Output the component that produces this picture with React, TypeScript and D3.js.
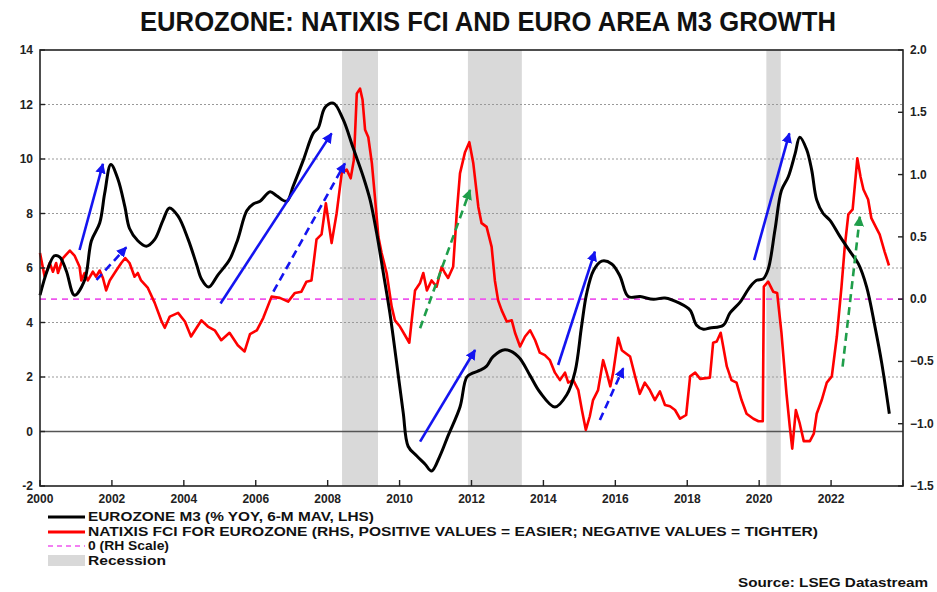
import React from 'react';
import * as d3 from 'd3';

const titleText = 'EUROZONE: NATIXIS FCI AND EURO AREA M3 GROWTH';
const legendLabels = [
  'EUROZONE M3 (% YOY, 6-M MAV, LHS)',
  'NATIXIS FCI FOR EUROZONE (RHS, POSITIVE VALUES = EASIER; NEGATIVE VALUES = TIGHTER)',
  '0 (RH Scale)',
  'Recession',
];
const sourceText = 'Source: LSEG Datastream';

const m3Years = [2000.0, 2000.2, 2000.4, 2000.55, 2000.73, 2000.96, 2001.24, 2001.43, 2001.66, 2001.8, 2001.97, 2002.17, 2002.36, 2002.49, 2002.72, 2002.96, 2003.19, 2003.42, 2003.6, 2003.84, 2004.12, 2004.35, 2004.49, 2004.69, 2004.95, 2005.27, 2005.5, 2005.75, 2005.93, 2006.12, 2006.4, 2006.58, 2006.86, 2007.04, 2007.32, 2007.6, 2007.74, 2007.93, 2008.16, 2008.43, 2008.71, 2008.99, 2009.18, 2009.36, 2009.55, 2009.73, 2009.92, 2010.1, 2010.24, 2010.48, 2010.71, 2010.89, 2011.12, 2011.35, 2011.68, 2011.87, 2012.05, 2012.24, 2012.42, 2012.6, 2012.93, 2013.3, 2013.63, 2013.9, 2014.32, 2014.65, 2014.88, 2015.06, 2015.2, 2015.39, 2015.62, 2015.9, 2016.13, 2016.36, 2016.69, 2017.06, 2017.38, 2017.8, 2018.08, 2018.26, 2018.45, 2018.63, 2019.0, 2019.19, 2019.47, 2019.74, 2019.93, 2020.11, 2020.25, 2020.44, 2020.62, 2020.81, 2021.0, 2021.13, 2021.32, 2021.46, 2021.6, 2021.78, 2021.97, 2022.25, 2022.53, 2022.76, 2022.99, 2023.22, 2023.41, 2023.62];
const m3Values = [5.0, 5.9, 6.45, 6.4, 5.9, 5.0, 5.55, 7.0, 7.65, 8.75, 9.8, 9.25, 8.25, 7.45, 7.0, 6.8, 7.05, 7.75, 8.2, 7.9, 7.05, 6.15, 5.6, 5.3, 5.75, 6.3, 7.05, 8.1, 8.35, 8.45, 8.8, 8.65, 8.45, 9.0, 9.95, 10.95, 11.15, 11.9, 12.05, 11.45, 10.4, 9.35, 8.5, 7.3, 5.8, 4.35, 2.5, 0.7, -0.55, -0.9, -1.2, -1.45, -0.9, -0.15, 0.9, 2.0, 2.15, 2.25, 2.4, 2.75, 3.0, 2.75, 2.05, 1.45, 0.9, 1.35, 2.2, 3.85, 5.05, 5.9, 6.25, 6.15, 5.7, 4.95, 4.95, 4.85, 4.9, 4.7, 4.45, 3.9, 3.75, 3.8, 3.9, 4.35, 4.75, 5.3, 5.55, 5.6, 5.95, 7.4, 8.85, 9.35, 10.2, 10.8, 10.35, 9.6, 8.5, 8.0, 7.75, 7.15, 6.6, 6.15, 5.3, 3.85, 2.5, 0.65];

const fciYears = [2000.0, 2000.13, 2000.27, 2000.36, 2000.45, 2000.5, 2000.64, 2000.83, 2000.96, 2001.1, 2001.15, 2001.24, 2001.33, 2001.47, 2001.56, 2001.66, 2001.75, 2001.84, 2001.94, 2002.12, 2002.26, 2002.37, 2002.49, 2002.63, 2002.72, 2002.81, 2003.0, 2003.19, 2003.37, 2003.47, 2003.61, 2003.84, 2004.03, 2004.2, 2004.49, 2004.67, 2004.86, 2005.04, 2005.27, 2005.5, 2005.69, 2005.84, 2006.03, 2006.21, 2006.44, 2006.67, 2006.9, 2007.09, 2007.27, 2007.41, 2007.55, 2007.69, 2007.83, 2007.95, 2008.11, 2008.25, 2008.39, 2008.53, 2008.64, 2008.73, 2008.81, 2008.9, 2008.97, 2009.04, 2009.13, 2009.23, 2009.32, 2009.41, 2009.5, 2009.64, 2009.78, 2009.87, 2010.01, 2010.15, 2010.27, 2010.36, 2010.43, 2010.57, 2010.66, 2010.76, 2010.89, 2011.03, 2011.17, 2011.26, 2011.35, 2011.49, 2011.59, 2011.68, 2011.82, 2011.94, 2012.05, 2012.19, 2012.28, 2012.42, 2012.56, 2012.65, 2012.74, 2012.84, 2012.98, 2013.12, 2013.21, 2013.35, 2013.49, 2013.63, 2013.77, 2013.9, 2014.04, 2014.18, 2014.32, 2014.46, 2014.6, 2014.69, 2014.83, 2014.97, 2015.07, 2015.18, 2015.29, 2015.38, 2015.52, 2015.66, 2015.76, 2015.86, 2015.94, 2016.08, 2016.18, 2016.27, 2016.41, 2016.55, 2016.68, 2016.82, 2016.96, 2017.1, 2017.24, 2017.38, 2017.52, 2017.66, 2017.8, 2017.97, 2018.08, 2018.22, 2018.36, 2018.63, 2018.72, 2018.82, 2018.93, 2019.0, 2019.1, 2019.23, 2019.37, 2019.51, 2019.65, 2019.84, 2019.98, 2020.1, 2020.13, 2020.25, 2020.39, 2020.5, 2020.62, 2020.76, 2020.85, 2020.92, 2021.02, 2021.13, 2021.24, 2021.41, 2021.52, 2021.6, 2021.74, 2021.88, 2022.02, 2022.16, 2022.29, 2022.38, 2022.48, 2022.6, 2022.73, 2022.82, 2022.9, 2023.03, 2023.12, 2023.26, 2023.35, 2023.49, 2023.61];
const fciValues = [0.37, 0.18, 0.29, 0.22, 0.29, 0.21, 0.33, 0.39, 0.35, 0.26, 0.15, 0.21, 0.15, 0.22, 0.18, 0.23, 0.17, 0.07, 0.15, 0.23, 0.29, 0.33, 0.29, 0.18, 0.21, 0.15, 0.09, -0.03, -0.17, -0.23, -0.14, -0.11, -0.18, -0.3, -0.17, -0.22, -0.25, -0.33, -0.27, -0.37, -0.42, -0.28, -0.25, -0.15, 0.02, 0.01, -0.02, 0.05, 0.06, 0.14, 0.15, 0.48, 0.52, 0.77, 0.45, 0.69, 1.01, 1.04, 0.97, 1.12, 1.65, 1.69, 1.6, 1.36, 1.3, 1.09, 0.8, 0.5, 0.37, 0.21, -0.06, -0.17, -0.22, -0.29, -0.35, -0.11, 0.07, 0.13, 0.21, 0.07, 0.15, 0.1, 0.26, 0.21, 0.17, 0.26, 0.69, 1.01, 1.18, 1.26, 1.09, 0.74, 0.61, 0.58, 0.42, 0.15, -0.01, -0.09, -0.18, -0.17, -0.27, -0.38, -0.3, -0.25, -0.33, -0.43, -0.45, -0.49, -0.59, -0.65, -0.59, -0.67, -0.65, -0.73, -0.89, -1.05, -0.94, -0.81, -0.73, -0.49, -0.59, -0.7, -0.59, -0.31, -0.41, -0.43, -0.46, -0.62, -0.76, -0.67, -0.73, -0.81, -0.74, -0.85, -0.86, -0.89, -0.96, -0.93, -0.62, -0.59, -0.64, -0.63, -0.35, -0.34, -0.27, -0.38, -0.54, -0.65, -0.67, -0.81, -0.92, -0.96, -0.98, -0.98, 0.1, 0.14, 0.06, 0.05, -0.27, -0.76, -1.02, -1.2, -0.89, -1.0, -1.14, -1.14, -1.08, -0.92, -0.81, -0.67, -0.62, -0.3, 0.1, 0.42, 0.68, 0.72, 1.13, 0.98, 0.88, 0.8, 0.65, 0.57, 0.52, 0.38, 0.27];

const recessionStarts = [2008.4, 2011.9, 2020.2];
const recessionEnds = [2009.4, 2013.4, 2020.6];

const leftTicks = [-2, 0, 2, 4, 6, 8, 10, 12, 14];
const rightTicks = [-1.5, -1.0, -0.5, 0.0, 0.5, 1.0, 1.5, 2.0];
const yearTicks = [2000, 2002, 2004, 2006, 2008, 2010, 2012, 2014, 2016, 2018, 2020, 2022, 2024];
const yearLabels = [2000, 2002, 2004, 2006, 2008, 2010, 2012, 2014, 2016, 2018, 2020, 2022];

// annotation arrows (x in years, y in LHS units)
const arrowKinds = ['blue', 'blue', 'blue', 'blue', 'blue', 'blueDash', 'blueDash', 'blueDash', 'greenDash', 'greenDash'];
const arrowX0 = [2001.1, 2005.02, 2010.57, 2014.41, 2019.86, 2001.57, 2006.49, 2015.57, 2010.57, 2022.32];
const arrowY0 = [6.66, 4.7, -0.37, 2.44, 6.29, 5.56, 5.13, 0.42, 3.79, 2.38];
const arrowX1 = [2001.75, 2008.11, 2012.1, 2015.43, 2020.84, 2002.4, 2008.48, 2016.22, 2011.96, 2022.8];
const arrowY1 = [9.82, 10.94, 2.99, 6.6, 10.94, 6.76, 9.84, 2.32, 8.86, 7.88];

const W = 937;
const H = 592;
const PL = 40;
const PR = 903;
const PT = 50;
const PB = 486;

const BOLD = "'Liberation Sans', Arial, Helvetica, sans-serif";
const NARROW = "'Liberation Sans Narrow', 'Arial Narrow', 'Liberation Sans', sans-serif";

export default function App() {
  const x = d3.scaleLinear().domain([2000, 2024]).range([PL, PR]);
  const yL = d3.scaleLinear().domain([-2, 14]).range([PB, PT]);
  const yR = d3.scaleLinear().domain([-1.5, 2]).range([PB, PT]);

  const m3 = m3Years.map((yr, i) => [yr, m3Values[i]] as [number, number]);
  const fci = fciYears.map((yr, i) => [yr, fciValues[i]] as [number, number]);

  const m3Line = d3
    .line<[number, number]>()
    .x((d) => x(d[0]))
    .y((d) => yL(d[1]))
    .curve(d3.curveCatmullRom.alpha(0.5));
  const fciLine = d3
    .line<[number, number]>()
    .x((d) => x(d[0]))
    .y((d) => yR(d[1]));

  const arrowColor: Record<string, string> = {
    blue: '#1414f0',
    blueDash: '#1414f0',
    greenDash: '#1f9e4a',
  };

  const legendY = [521, 536, 550, 565];

  return (
    <svg
      width={W}
      height={H}
      style={{ position: 'absolute', left: 0, top: 0, background: '#fff' }}
    >
      <defs>
        <marker id="headBlue" viewBox="0 0 10 10" refX="9" refY="5" markerWidth="4" markerHeight="4" orient="auto" markerUnits="strokeWidth">
          <path d="M0,0 L10,5 L0,10 z" fill="#1414f0" />
        </marker>
        <marker id="headGreen" viewBox="0 0 10 10" refX="9" refY="5" markerWidth="4" markerHeight="4" orient="auto" markerUnits="strokeWidth">
          <path d="M0,0 L10,5 L0,10 z" fill="#1f9e4a" />
        </marker>
      </defs>

      <text
        x={140}
        y={31}
        textLength={696}
        lengthAdjust="spacingAndGlyphs"
        fontFamily={NARROW}
        fontWeight="bold"
        fontSize={27}
        fill="#111"
      >
        {titleText}
      </text>

      {/* recession bands */}
      {recessionStarts.map((s, i) => (
        <rect
          key={'rec' + i}
          x={x(s)}
          y={PT}
          width={x(recessionEnds[i]) - x(s)}
          height={PB - PT}
          fill="#d9d9d9"
        />
      ))}

      {/* gridlines */}
      {leftTicks
        .filter((t) => t > -2 && t < 14)
        .map((t) => (
          <line
            key={'g' + t}
            x1={PL}
            x2={PR}
            y1={yL(t)}
            y2={yL(t)}
            stroke={t === 0 ? '#555' : '#999'}
            strokeWidth={t === 0 ? 1.3 : 1}
            strokeDasharray={t === 0 ? undefined : '2,2'}
          />
        ))}

      {/* zero RHS */}
      <line
        x1={PL}
        x2={PR}
        y1={yR(0)}
        y2={yR(0)}
        stroke="#ee55ee"
        strokeWidth={1.6}
        strokeDasharray="6,5"
      />

      {/* series */}
      <path d={fciLine(fci) || ''} fill="none" stroke="#ff0000" strokeWidth={2.6} strokeLinejoin="round" />
      <path d={m3Line(m3) || ''} fill="none" stroke="#000" strokeWidth={3} strokeLinejoin="round" />

      {/* arrows */}
      {arrowKinds.map((k, i) => (
        <line
          key={'a' + i}
          x1={x(arrowX0[i])}
          y1={yL(arrowY0[i])}
          x2={x(arrowX1[i])}
          y2={yL(arrowY1[i])}
          stroke={arrowColor[k]}
          strokeWidth={2.6}
          strokeDasharray={k === 'blue' ? undefined : '8,5'}
          markerEnd={k === 'greenDash' ? 'url(#headGreen)' : 'url(#headBlue)'}
        />
      ))}

      {/* frame */}
      <rect x={PL} y={PT} width={PR - PL} height={PB - PT} fill="none" stroke="#222" strokeWidth={1.6} />

      {/* left ticks */}
      {leftTicks.map((t) => (
        <g key={'lt' + t}>
          <line x1={PL} x2={PL + 5} y1={yL(t)} y2={yL(t)} stroke="#222" strokeWidth={1.4} />
          <text x={33} y={yL(t) + 4} textAnchor="end" fontFamily={BOLD} fontWeight="bold" fontSize={12} fill="#222">
            {t}
          </text>
        </g>
      ))}

      {/* right ticks */}
      {rightTicks.map((t) => (
        <g key={'rt' + t}>
          <line x1={PR - 5} x2={PR} y1={yR(t)} y2={yR(t)} stroke="#222" strokeWidth={1.4} />
          <text x={910} y={yR(t) + 4} textAnchor="start" fontFamily={BOLD} fontWeight="bold" fontSize={12} fill="#222">
            {d3.format('.1f')(t)}
          </text>
        </g>
      ))}

      {/* x ticks */}
      {yearTicks.map((t) => (
        <line key={'xt' + t} x1={x(t)} x2={x(t)} y1={PB} y2={PB - 6} stroke="#222" strokeWidth={1.4} />
      ))}
      {yearLabels.map((t) => (
        <text key={'xl' + t} x={x(t)} y={503} textAnchor="middle" fontFamily={BOLD} fontWeight="bold" fontSize={12} fill="#222">
          {d3.format('d')(t)}
        </text>
      ))}

      {/* legend */}
      <line x1={48} x2={85} y1={legendY[0] - 4} y2={legendY[0] - 4} stroke="#000" strokeWidth={3} />
      <line x1={48} x2={85} y1={legendY[1] - 4} y2={legendY[1] - 4} stroke="#ff0000" strokeWidth={3} />
      <line x1={48} x2={85} y1={legendY[2] - 4} y2={legendY[2] - 4} stroke="#ee55ee" strokeWidth={1.6} strokeDasharray="5,4" />
      <rect x={48} y={legendY[3] - 10} width={37} height={11} fill="#d9d9d9" />
      {legendLabels.map((l, i) => (
        <text
          key={'lg' + i}
          x={88}
          y={legendY[i]}
          fontFamily={NARROW}
          fontWeight="bold"
          fontSize={13}
          fill="#111"
          textLength={[286, 730, 81, 78][i]}
          lengthAdjust="spacingAndGlyphs"
        >
          {l}
        </text>
      ))}

      <text
        x={928}
        y={587}
        textAnchor="end"
        fontFamily={BOLD}
        fontWeight="bold"
        fontSize={13}
        fill="#111"
        textLength={190}
        lengthAdjust="spacingAndGlyphs"
      >
        {sourceText}
      </text>
    </svg>
  );
}
